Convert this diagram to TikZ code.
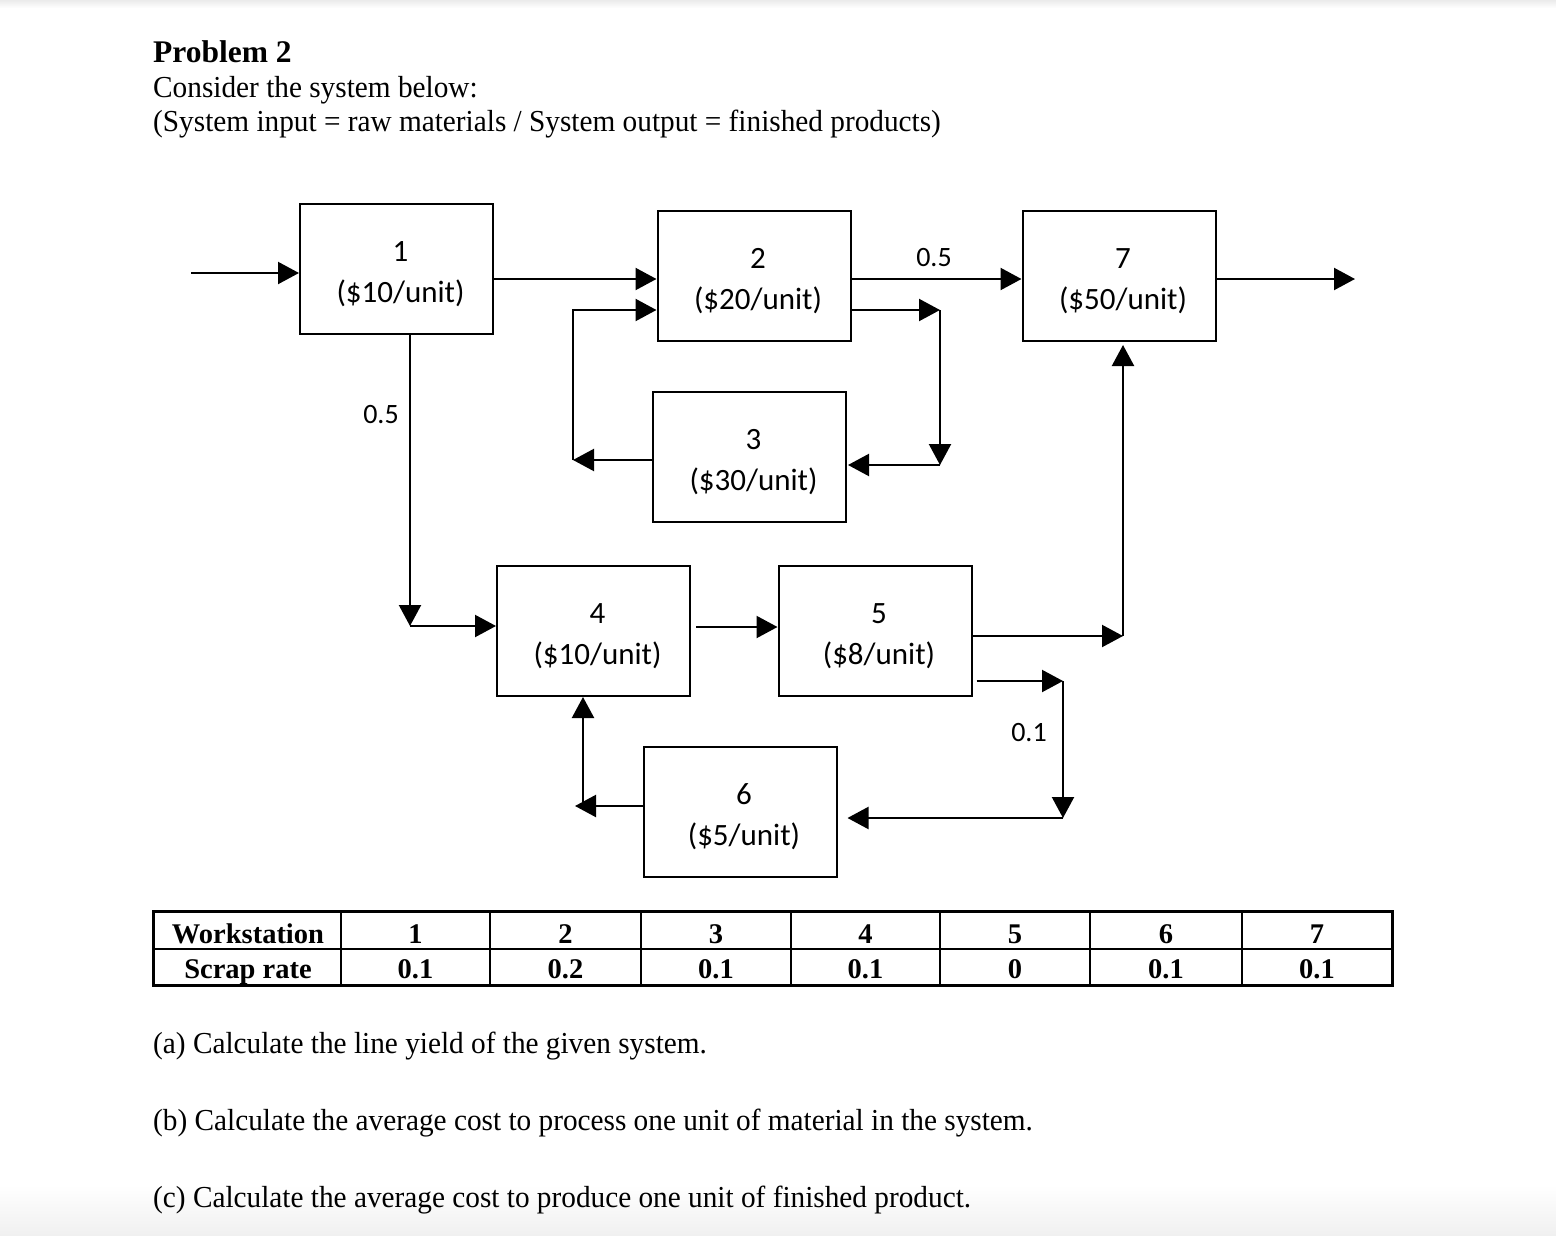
\documentclass[tikz,border=0pt]{standalone}
\usepackage{fontspec}
\usepackage{graphicx}
\setmainfont{Liberation Serif}
\newfontfamily\calib{Carlito}
\newcommand\cond[1]{\scalebox{0.96}[1]{#1}}
\usetikzlibrary{arrows.meta,calc}
\begin{document}
\begin{tikzpicture}[x=1pt,y=-1pt,
  wbox/.style={draw,line width=2pt,minimum width=193pt,minimum height=130pt,inner sep=0pt},
  wtxt/.style={font=\calib\fontsize{31}{37}\selectfont,anchor=base,inner sep=0pt},
  lbl/.style={font=\calib\fontsize{28}{34}\selectfont,inner sep=0pt},
  arr/.style={line width=2.2pt,-{Triangle[length=21pt,width=22pt]}},
  body/.style={font=\fontsize{30.5}{36}\selectfont,anchor=base west,inner sep=0pt},
  title/.style={font=\bfseries\fontsize{31.5}{36}\selectfont,anchor=base west,inner sep=0pt},
  tab/.style={font=\bfseries\fontsize{28.5}{34}\selectfont,anchor=base,inner sep=0pt}
]
\useasboundingbox (0,0) rectangle (1556,1236);
\fill[white] (0,0) rectangle (1556,1236);
\shade[top color=black!8,bottom color=white] (0,0) rectangle (1556,8);
\shade[top color=white,bottom color=black!6] (0,1185) rectangle (1556,1236);

% heading
\node[title] (hd) at (153,63) {Problem 2};
\node[body] (l1) at (153,97.5) {\cond{Consider the system below:}};
\node[body] (l2) at (153,132) {\cond{(System input = raw materials / System output = finished products)}};

% workstations
\newcommand\wsbox[5]{%
  \node[wbox] (#1) at (#2,#3) {};
  \node[wtxt] (#1n) at ($(#1)+(4,-8)$) {#4};
  \node[wtxt] (#1c) at ($(#1)+(4,33)$) {#5};}
\wsbox{b1}{396.5}{269}{1}{(\$10/unit)}
\wsbox{b2}{754}{276}{2}{(\$20/unit)}
\wsbox{b7}{1119}{276}{7}{(\$50/unit)}
\wsbox{b3}{749.5}{457}{3}{(\$30/unit)}
\wsbox{b4}{593.5}{631}{4}{(\$10/unit)}
\wsbox{b5}{875}{631}{5}{(\$8/unit)}
\wsbox{b6}{740}{812}{6}{(\$5/unit)}

% coordinates
\coordinate (in) at (191,273);
\coordinate (out) at (1355,279);
\coordinate (c1) at (940,310);
\coordinate (c2) at (940,465);
\coordinate (c3) at (573,460);
\coordinate (c4) at (573,310);
\coordinate (c5) at (410,626);
\coordinate (c6) at (1123,636);
\coordinate (c7) at (1063,681);
\coordinate (c8) at (1063,818);
\coordinate (c9) at (575,806);
\coordinate (c10) at (583,806);

% connectors
\draw[arr] (in) -- (in -| b1.west);
\draw[arr] (b1.east |- 0,279) -- (b2.west |- 0,279);
\draw[arr] (b2.east |- 0,279) -- (b7.west |- 0,279);
\draw[arr] (b7.east |- out) -- (out);
\draw[arr] (b2.east |- c1) -- (c1);
\draw[arr] (c1) -- (c2);
\draw[arr] (c2) -- ([xshift=1pt]b3.east |- c2);
\draw[arr] (b3.west |- c3) -- (c3);
\draw[arr] (c3) -- (c4) -- (b2.west |- c4);
\draw[arr] (b1.south -| c5) -- (c5);
\draw[arr] (c5) -- (b4.west |- c5);
\draw[arr] ([xshift=5pt]b4.east |- 0,627) -- (b5.west |- 0,627);
\draw[arr] (b5.east |- c6) -- (c6);
\draw[arr] (c6) -- ([yshift=-3pt]b7.south -| c6);
\draw[arr] ([xshift=4pt]b5.east |- c7) -- (c7);
\draw[arr] (c7) -- (c8);
\draw[arr] (c8) -- ([xshift=10pt]b6.east |- c8);
\draw[arr] (b6.west |- c9) -- (c9);
\draw[arr] (c10) -- (b4.south -| c10);

% labels
\node[lbl] (p1) at (934,258) {0.5};
\node[lbl] (p2) at (381,415) {0.5};
\node[lbl] (p3) at (1029,733) {0.1};

% table
\draw[line width=3pt] (153,911) rectangle (1392,985);
\draw[line width=2pt] (153,949) -- (1392,949);
\foreach \x in {341,490,641,791,940,1090,1242}
  \draw[line width=2pt] (\x,911) -- (\x,985);
\node[tab] (tw) at (248,943) {Workstation};
\node[tab] (ts) at (248,978) {Scrap rate};
\foreach \x/\n/\r [count=\i] in {415.5/1/0.1,565.5/2/0.2,716/3/0.1,865.5/4/0.1,1015/5/0,1166/6/0.1,1317/7/0.1}{
  \node[tab] (tn\i) at (\x,943) {\n};
  \node[tab] (tr\i) at (\x,978) {\r};
}

% questions
\node[body] (qa) at (153,1053) {\cond{(a) Calculate the line yield of the given system.}};
\node[body] (qb) at (153,1130.5) {\cond{(b) Calculate the average cost to process one unit of material in the system.}};
\node[body] (qc) at (153,1207.5) {\cond{(c) Calculate the average cost to produce one unit of finished product.}};
\end{tikzpicture}
\end{document}
